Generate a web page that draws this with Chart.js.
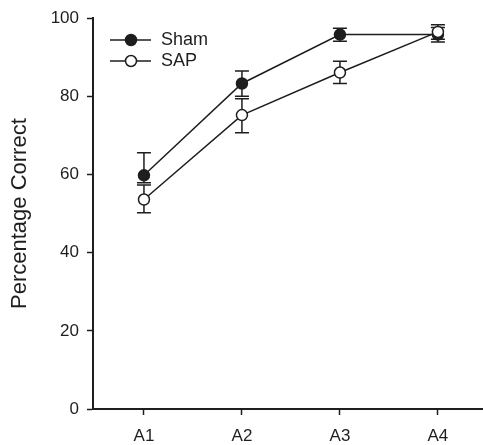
<!DOCTYPE html>
<html>
<head>
<meta charset="utf-8">
<script src="https://cdn.jsdelivr.net/npm/chart.js@4.4.1/dist/chart.umd.min.js"></script>
<style>
  html, body { margin: 0; padding: 0; background: #fff; }
  #chart { display: block; }
</style>
</head>
<body>
<canvas id="chart" width="483" height="445"></canvas>
<script>
/* ================= DATA ================= */
const sessions = ["A1", "A2", "A3", "A4"];
const yTicks = [0, 20, 40, 60, 80, 100];

const shamMean = [59.8, 83.3, 95.8, 95.8];
const shamLow  = [57.9, 80.0, 94.1, 93.9];
const shamHigh = [65.6, 86.5, 97.4, 97.6];

const sapMean = [53.6, 75.2, 86.1, 96.5];
const sapLow  = [50.2, 70.7, 83.3, 94.6];
const sapHigh = [57.3, 79.4, 89.0, 98.3];

const INK = "#1e1e1e";
const FONT = "'Liberation Sans', Arial, sans-serif";

function toPoints(arr) {
    return arr.map((v, i) => ({ x: i, y: v }));
}

/* ================= ERROR BARS ================= */
const errorBars = {
    id: "errorBars",
    beforeDatasetsDraw(chart) {
        const { ctx, scales: { x, y } } = chart;
        const sets = [[shamLow, shamHigh], [sapLow, sapHigh]];
        ctx.save();
        ctx.strokeStyle = INK;
        ctx.lineWidth = 1.5;
        sets.forEach(([lo, hi]) => {
            lo.forEach((l, i) => {
                const px = x.getPixelForValue(i);
                const yl = y.getPixelForValue(l);
                const yh = y.getPixelForValue(hi[i]);
                ctx.beginPath();
                ctx.moveTo(px, yl); ctx.lineTo(px, yh);
                ctx.moveTo(px - 7, yl); ctx.lineTo(px + 7, yl);
                ctx.moveTo(px - 7, yh); ctx.lineTo(px + 7, yh);
                ctx.stroke();
            });
        });
        ctx.restore();
    }
};

/* ================= LEGEND ================= */
const lineLegend = {
    id: "lineLegend",
    afterDraw(chart) {
        const ctx = chart.ctx;
        const rows = [
            { label: "Sham", fill: INK, y: 40 },
            { label: "SAP", fill: "#fff", y: 61 }
        ];
        ctx.save();
        rows.forEach(r => {
            ctx.strokeStyle = INK;
            ctx.lineWidth = 1.5;
            ctx.beginPath();
            ctx.moveTo(110, r.y); ctx.lineTo(151, r.y);
            ctx.stroke();
            ctx.beginPath();
            ctx.arc(131, r.y, 5.5, 0, Math.PI * 2);
            ctx.fillStyle = r.fill;
            ctx.fill();
            ctx.stroke();
            ctx.fillStyle = INK;
            ctx.font = "18px " + FONT;
            ctx.textBaseline = "middle";
            ctx.fillText(r.label, 161, r.y);
        });
        ctx.restore();
    }
};

/* ================= CHART ================= */
const ctx = document.getElementById("chart").getContext("2d");
new Chart(ctx, {
    type: "line",
    data: {
        datasets: [
            {
                label: "Sham", data: toPoints(shamMean), order: 1,
                borderColor: INK, borderWidth: 1.5,
                pointRadius: 5.5, pointBorderWidth: 1.5,
                pointBackgroundColor: INK, pointBorderColor: INK
            },
            {
                label: "SAP", data: toPoints(sapMean), order: 0,
                borderColor: INK, borderWidth: 1.5,
                pointRadius: 5.5, pointBorderWidth: 1.5,
                pointBackgroundColor: "#fff", pointBorderColor: INK
            }
        ]
    },
    options: {
        responsive: false,
        animation: false,
        layout: { autoPadding: false, padding: { top: 16, right: 0, left: 0, bottom: 0 } },
        plugins: { legend: { display: false }, tooltip: { enabled: false } },
        scales: {
            x: {
                type: "linear",
                min: -0.52, max: 3.46,
                afterBuildTicks: s => { s.ticks = sessions.map((_, i) => ({ value: i })); },
                afterFit: s => { s.height = 36; s.paddingLeft = 0; s.paddingRight = 0; },
                ticks: {
                    callback: v => sessions[v],
                    color: INK, font: { family: FONT, size: 17 }, padding: 11
                },
                grid: { drawOnChartArea: false, tickLength: 6, tickWidth: 1.5, tickColor: INK },
                border: { color: INK, width: 2 }
            },
            y: {
                min: 0, max: 100,
                afterBuildTicks: s => { s.ticks = yTicks.map(v => ({ value: v })); },
                afterFit: s => { s.width = 93; },
                ticks: { color: INK, font: { family: FONT, size: 17 }, padding: 8 },
                grid: { drawOnChartArea: false, tickLength: 6, tickWidth: 1.5, tickColor: INK },
                border: { color: INK, width: 2 },
                title: {
                    display: true, text: "Percentage Correct", color: INK,
                    font: { family: FONT, size: 22 }, padding: { top: 7, bottom: 0 }
                }
            }
        }
    },
    plugins: [errorBars, lineLegend]
});
</script>
</body>
</html>
